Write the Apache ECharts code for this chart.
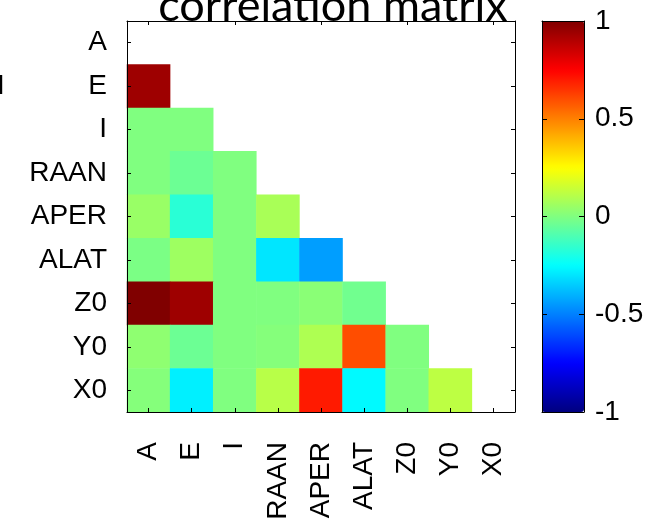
<!DOCTYPE html>
<html>
<head>
<meta charset="utf-8">
<script src="https://cdn.jsdelivr.net/npm/echarts@6/dist/echarts.min.js"></script>
<style>html,body{margin:0;padding:0;background:#fff;}#c{width:650px;height:527px;}</style>
</head>
<body>
<div id="c"></div>
<script>
// Variable names (rows top->bottom, columns left->right)
var labels = ['A', 'E', 'I', 'RAAN', 'APER', 'ALAT', 'Z0', 'Y0', 'X0'];
// Lower-triangle correlation values; row i holds columns 0..i-1
var rowA = [];
var rowE = [0.94];
var rowI = [0.0, 0.0];
var rowRAAN = [0.0, -0.04, 0.0];
var rowAPER = [0.05, -0.17, 0.0, 0.08];
var rowALAT = [-0.01, 0.06, 0.0, -0.30, -0.44];
var rowZ0 = [1.0, 0.94, 0.0, 0.0, 0.02, -0.03];
var rowY0 = [0.03, -0.04, 0.0, 0.01, 0.09, 0.60, 0.0];
var rowX0 = [0.01, -0.28, 0.0, 0.11, 0.70, -0.26, 0.0, 0.12];
var colorbarTicks = [-1, -0.5, 0, 0.5, 1];
var titleText = 'correlation matrix';

var rows = [rowA, rowE, rowI, rowRAAN, rowAPER, rowALAT, rowZ0, rowY0, rowX0];
var data = [];
rows.forEach(function (r, i) {
  r.forEach(function (v, j) { data.push([j, i, v]); });
});

var jet = ['#000080', '#0000FF', '#0080FF', '#00FFFF', '#80FF80', '#FFFF00', '#FF8000', '#FF0000', '#800000'];
var FONT = 'Liberation Sans';
var blackLine = { show: true, onZero: false, lineStyle: { color: '#000', width: 1 } };
var inTick = { show: true, inside: true, alignWithLabel: true, length: 4, lineStyle: { color: '#000' } };

var chart = echarts.init(document.getElementById('c'), null, { renderer: 'canvas' });
chart.setOption({
  animation: false,
  backgroundColor: '#fff',
  title: {
    text: titleText, left: 328, top: -21, textAlign: 'center',
    textStyle: { fontFamily: 'Lato', fontWeight: 'normal', fontSize: 45, color: '#000' }
  },
  graphic: [{
    type: 'text', left: -3, top: 72,
    style: { text: 'I', fontFamily: FONT, fontSize: 28, fill: '#000' }
  }],
  grid: [
    { left: 127, top: 21, width: 388, height: 391, containLabel: false },
    { left: 542, top: 21, width: 42, height: 391, containLabel: false }
  ],
  xAxis: [
    {
      gridIndex: 0, type: 'category', data: labels, position: 'bottom', z: 10,
      axisLine: blackLine, axisTick: inTick,
      axisLabel: { rotate: 90, fontFamily: FONT, fontSize: 28, color: '#000', margin: 30 },
      splitLine: { show: false }
    },
    {
      gridIndex: 0, type: 'category', data: labels, position: 'top', z: 10,
      axisLine: blackLine, axisTick: inTick,
      axisLabel: { show: false }, splitLine: { show: false }
    },
    {
      gridIndex: 1, type: 'category', data: [''], position: 'bottom', z: 10,
      axisLine: blackLine, axisTick: { show: false }, axisLabel: { show: false }
    },
    {
      gridIndex: 1, type: 'category', data: [''], position: 'top', z: 10,
      axisLine: blackLine, axisTick: { show: false }, axisLabel: { show: false }
    }
  ],
  yAxis: [
    {
      gridIndex: 0, type: 'category', data: labels, inverse: true, position: 'left', z: 10,
      axisLine: blackLine, axisTick: inTick,
      axisLabel: { fontFamily: FONT, fontSize: 28, color: '#000', margin: 20 },
      splitLine: { show: false }
    },
    {
      gridIndex: 0, type: 'category', data: labels, inverse: true, position: 'right', z: 10,
      axisLine: blackLine, axisTick: inTick,
      axisLabel: { show: false }, splitLine: { show: false }
    },
    {
      gridIndex: 1, type: 'value', min: -1, max: 1, interval: 0.5, position: 'right', z: 10,
      axisLine: blackLine,
      axisTick: { show: true, inside: true, length: 5, lineStyle: { color: '#000' } },
      axisLabel: { fontFamily: FONT, fontSize: 28, color: '#000', margin: 11 },
      splitLine: { show: false }
    },
    {
      gridIndex: 1, type: 'value', min: -1, max: 1, interval: 0.5, position: 'left', z: 10,
      axisLine: blackLine,
      axisTick: { show: true, inside: true, length: 5, lineStyle: { color: '#000' } },
      axisLabel: { show: false }, splitLine: { show: false }
    }
  ],
  visualMap: {
    type: 'continuous', min: -1, max: 1, seriesIndex: 0,
    left: 542, top: 21, itemWidth: 42, itemHeight: 391, padding: 0,
    calculable: false, hoverLink: false, text: null, showLabel: false,
    inRange: { color: jet }
  },
  series: [{
    type: 'heatmap', xAxisIndex: 0, yAxisIndex: 0, data: data,
    itemStyle: { borderWidth: 0 },
    emphasis: { disabled: true }
  }]
});
</script>
</body>
</html>
